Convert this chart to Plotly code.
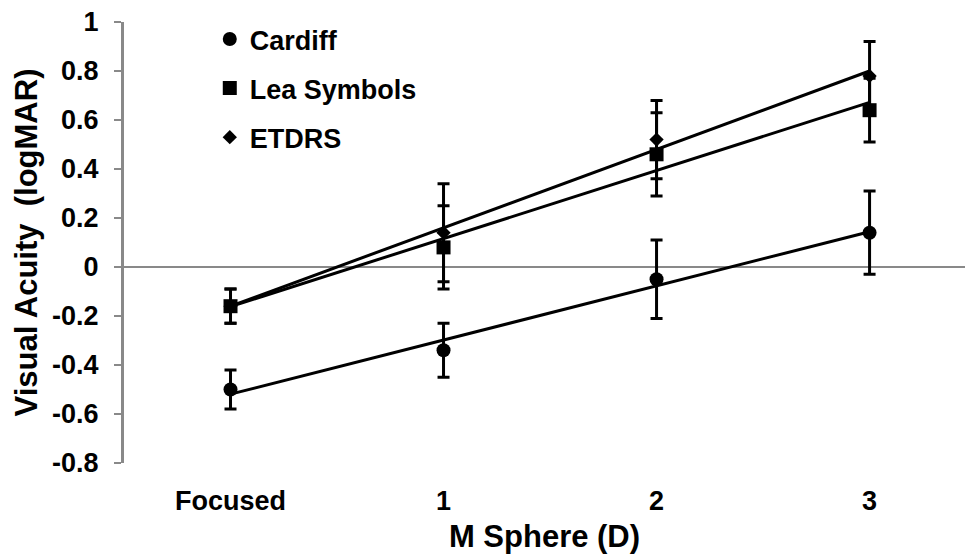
import numpy as np
import plotly.graph_objects as go

categories = ["Focused", "1", "2", "3"]
cardiff = [-0.50, -0.34, -0.05, 0.14]
cardiff_err = [0.08, 0.11, 0.16, 0.17]
lea = [-0.16, 0.08, 0.46, 0.64]
lea_err = [0.07, 0.17, 0.17, 0.13]
etdrs = [-0.16, 0.14, 0.52, 0.78]
etdrs_err = [0.07, 0.20, 0.16, 0.14]
y_ticks = [-0.8, -0.6, -0.4, -0.2, 0, 0.2, 0.4, 0.6, 0.8, 1]

series = [
    ("Cardiff", cardiff, cardiff_err, "circle", 14),
    ("Lea Symbols", lea, lea_err, "square", 14),
    ("ETDRS", etdrs, etdrs_err, "diamond", 11),
]

FONT = "Liberation Sans, Arial, sans-serif"
FS = 27
TS = 31

xi = np.arange(len(categories))
fig = go.Figure()
for i, (name, vals, err, sym, size) in enumerate(series):
    # linear trendline computed from the data
    m, b = np.polyfit(xi + 1, vals, 1)
    fit = m * (xi + 1) + b
    fig.add_trace(go.Scatter(
        x=xi, y=fit, mode="lines", line=dict(color="black", width=3),
        showlegend=False, hoverinfo="skip"))
for i, (name, vals, err, sym, size) in enumerate(series):
    fig.add_trace(go.Scatter(
        x=xi, y=vals, mode="markers", name=name, legendgroup=name,
        marker=dict(symbol=sym, size=size, color="black"),
        error_y=dict(type="data", array=err, visible=True, color="black",
                     thickness=3, width=6)))

fig.update_layout(
    width=965, height=555,
    margin=dict(l=124, r=0, t=22, b=92),
    plot_bgcolor="white", paper_bgcolor="white",
    font=dict(family=FONT, size=FS, color="black"),
    showlegend=True,
    legend=dict(x=0.102, y=1.016, xanchor="left", yanchor="top",
                font=dict(size=FS, color="black", family=FONT, weight="bold"),
                tracegroupgap=11, bgcolor="rgba(0,0,0,0)", itemwidth=30),
    xaxis=dict(
        range=[-0.5, 3.448], tickmode="array", tickvals=list(xi), ticktext=categories,
        showline=False, showgrid=False, zeroline=False, ticks="", ticklabelstandoff=19,
        tickfont=dict(size=FS, weight="bold"),
        title=dict(text="M Sphere (D)", font=dict(size=TS, weight="bold"), standoff=10),
    ),
    yaxis=dict(
        range=[-0.8, 1.0], tickmode="array", tickvals=y_ticks,
        ticktext=[("%g" % v) for v in y_ticks],
        showline=True, linecolor="#898989", linewidth=3,
        ticks="outside", ticklen=7, tickwidth=2, tickcolor="#898989",
        showgrid=False, zeroline=True, zerolinecolor="#898989", zerolinewidth=2,
        ticklabelstandoff=10,
        tickfont=dict(size=FS, weight="bold"),
        title=dict(text="Visual Acuity  (logMAR)", font=dict(size=TS, weight="bold"), standoff=6),
    ),
)
fig.write_html("out.html")
